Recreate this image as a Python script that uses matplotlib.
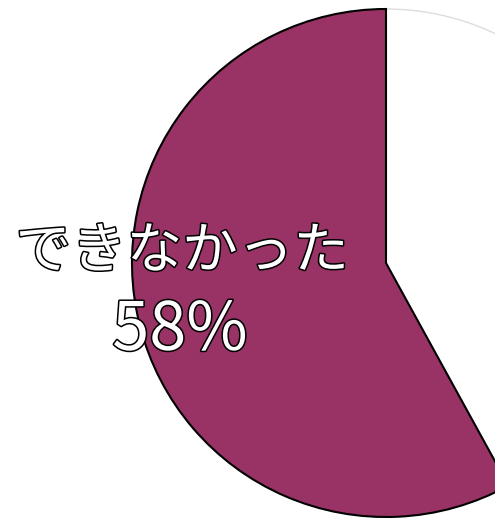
import matplotlib
matplotlib.use("Agg")
import matplotlib.pyplot as plt
import matplotlib.patheffects as pe

plt.rcParams['font.family'] = ['Noto Sans CJK JP', 'DejaVu Sans']

categories = ["できなかった", "できた"]
values = [58, 42]
colors = ["#993366", "#ffffff"]

fig = plt.figure(figsize=(4.95, 5.22), dpi=100)
ax = fig.add_axes([0, 0, 1, 1])
wedges, _ = ax.pie(values, colors=colors, startangle=90, counterclock=True,
                   radius=1.0, wedgeprops=dict(linewidth=1.5))
wedges[0].set_edgecolor("black")
wedges[0].set_zorder(3)
wedges[1].set_edgecolor("#dddddd")
wedges[1].set_linewidth(1.0)
wedges[1].set_zorder(2)

ax.set_xlim(-386 / 254, (495 - 386) / 254)
ax.set_ylim(-(522 - 263) / 254, 263 / 254)
ax.set_aspect("equal")
ax.axis("off")

stroke = [pe.withStroke(linewidth=2.2, foreground="black")]
ax.text(-0.803, 0.043, categories[0], ha="center", va="center", fontsize=40,
        color="white", path_effects=stroke, zorder=5)
ax.text(-0.811, -0.268, f"{values[0]}%", ha="center", va="center", fontsize=48,
        color="white", path_effects=stroke, zorder=5)

fig.savefig("out.png", dpi=100)
